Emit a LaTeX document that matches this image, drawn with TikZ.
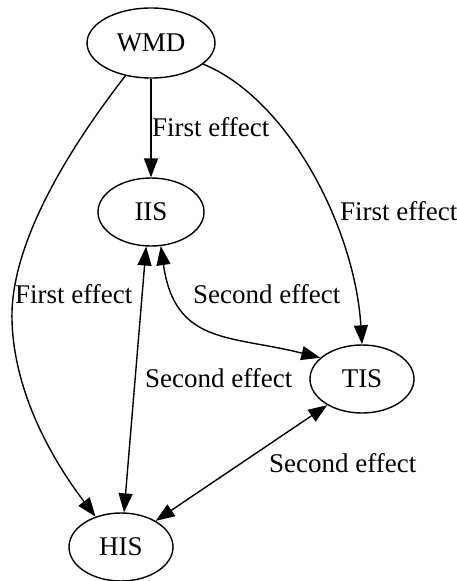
\documentclass[tikz,border=0pt]{standalone}
\usepackage{fontspec}
\setmainfont{Liberation Serif}
\usetikzlibrary{shapes.geometric,arrows.meta}

\begin{document}
\begin{tikzpicture}[x=1pt,y=-1pt,
  state/.style={ellipse,draw,line width=1.4pt,inner sep=0pt,
    minimum width=104pt,minimum height=68pt,font=\fontsize{27}{30}\selectfont},
  edge/.style={line width=1.4pt},
  tip/.tip={Triangle[length=19pt,width=14pt]},
  one/.style={edge,-tip},
  both/.style={edge,tip-tip},
  lbl/.style={anchor=west,inner sep=0pt,font=\fontsize{27}{30}\selectfont}]
  \useasboundingbox (0,0) rectangle (457,581);

  % states
  \node[state,minimum width=128pt,minimum height=70pt] (wmd) at (151,43) {WMD};
  \node[state,minimum width=106pt] (iis) at (151,212) {IIS};
  \node[state] (tis) at (362,379) {TIS};
  \node[state] (his) at (121,547) {HIS};

  % first effects
  \draw[one] (wmd) -- (iis);
  \draw[one] (wmd.232) .. controls (60,160) and (10,250) .. (12,320)
                       .. controls (14,400) and (60,470) .. (his.130);
  \draw[one] (wmd.-22) .. controls (290,100) and (355,230) .. (tis.north);

  % second effects
  \draw[both] (iis.262) -- (his.85);
  \draw[both] (iis.-74) .. controls (175,345) and (230,335) .. (tis.153);
  \draw[both] (tis.217) -- (his.37);

  % labels
  \node[lbl] (l1) at (152,127) {First effect};
  \node[lbl] (l2) at (340,211) {First effect};
  \node[lbl] (l3) at (15,294) {First effect};
  \node[lbl] (l4) at (193,294) {Second effect};
  \node[lbl] (l5) at (145,378) {Second effect};
  \node[lbl] (l6) at (269,463) {Second effect};
\end{tikzpicture}
\end{document}
